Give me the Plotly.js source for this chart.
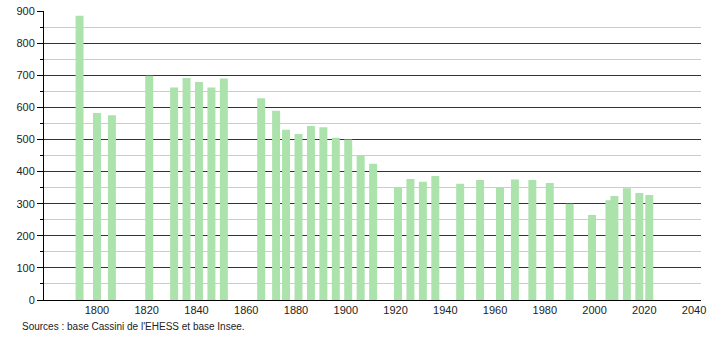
<!DOCTYPE html>
<html>
<head>
<meta charset="utf-8">
<script src="https://cdn.plot.ly/plotly-3.0.1.min.js"></script>
<style>html,body{margin:0;padding:0;background:#fff;}#chart{width:710px;height:340px;}</style>
</head>
<body>
<div id="chart"></div>
<script>
const years = [1793, 1800, 1806, 1821, 1831, 1836, 1841, 1846, 1851, 1866, 1872, 1876, 1881, 1886, 1891, 1896, 1901, 1906, 1911, 1921, 1926, 1931, 1936, 1946, 1954, 1962, 1968, 1975, 1982, 1990, 1999, 2006, 2008, 2013, 2018, 2022];
const population = [885, 582, 575, 698, 662, 691, 679, 662, 690, 628, 589, 530, 517, 542, 538, 505, 500, 451, 424, 352, 377, 368, 386, 362, 374, 352, 375, 374, 364, 300, 265, 311, 324, 348, 333, 327];
const yTicks = [0, 100, 200, 300, 400, 500, 600, 700, 800, 900];
const xTicks = [1800, 1820, 1840, 1860, 1880, 1900, 1920, 1940, 1960, 1980, 2000, 2020, 2040];
const sourceText = "Sources : base Cassini de l'EHESS et base Insee.";

const font = "Liberation Sans, Arial, sans-serif";
Plotly.newPlot('chart', [{
  type: 'bar',
  x: years,
  y: population,
  width: 3.2,
  marker: {color: '#ace2ac', line: {width: 0}},
  hoverinfo: 'x+y'
}], {
  width: 710, height: 340,
  margin: {l: 44, r: 9, t: 11, b: 40},
  paper_bgcolor: '#fff', plot_bgcolor: '#fff',
  showlegend: false,
  font: {family: font, size: 11, color: '#222'},
  xaxis: {
    range: [1778.7, 2042.8],
    tickvals: xTicks, ticktext: xTicks.map(String),
    showgrid: false, zeroline: false,
    showline: true, linecolor: '#000', linewidth: 1,
    ticks: '', tickfont: {size: 11, family: font, color: '#222'}
  },
  yaxis: {
    range: [0, 900],
    tickvals: yTicks, ticktext: yTicks.map(String),
    showgrid: true, gridcolor: '#333', gridwidth: 1,
    zeroline: false,
    showline: true, linecolor: '#000', linewidth: 1,
    ticks: 'outside', ticklen: 6, tickcolor: '#000',
    tickfont: {size: 11, family: font, color: '#222'},
    minor: {dtick: 50, tick0: 0, showgrid: true, gridcolor: '#cccccc', gridwidth: 1, ticks: 'outside', ticklen: 3, tickcolor: '#000'}
  },
  annotations: [{
    text: sourceText, xref: 'paper', yref: 'paper',
    x: -0.037, y: -0.093, xanchor: 'left', yanchor: 'middle',
    showarrow: false, font: {size: 10, family: font, color: '#222'}
  }]
}, {displayModeBar: false, staticPlot: true});
</script>
</body>
</html>
